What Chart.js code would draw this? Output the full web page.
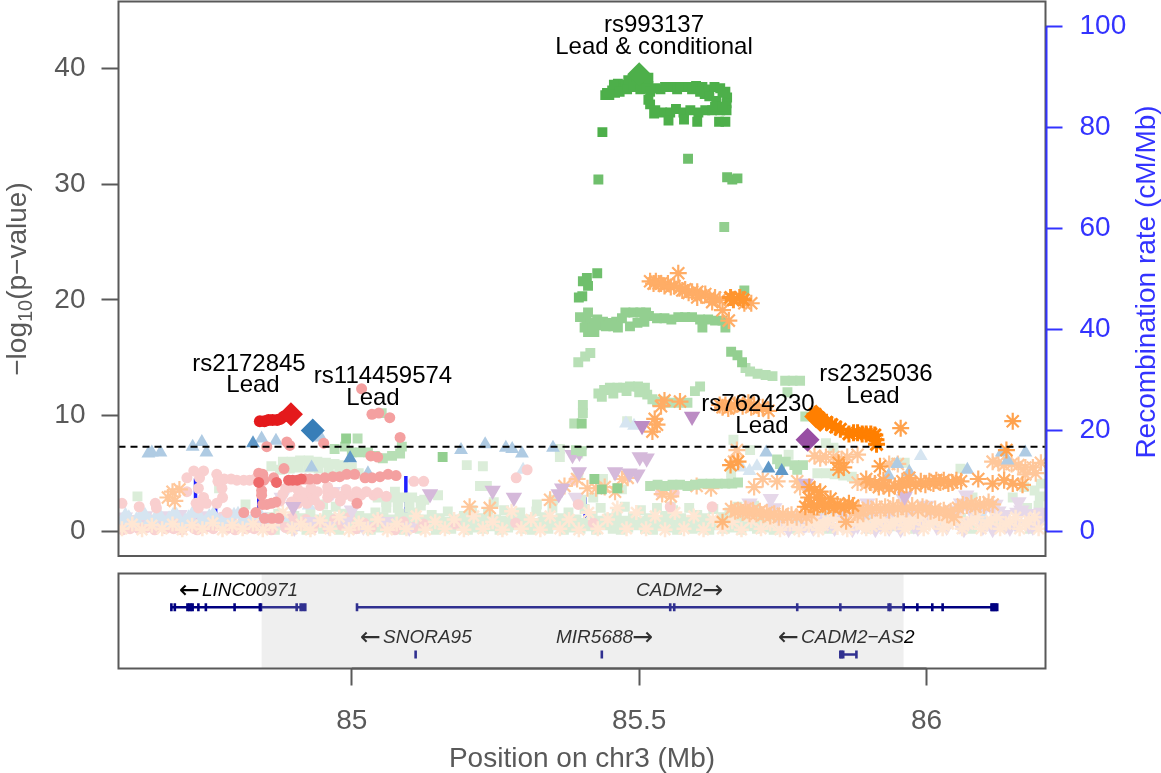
<!DOCTYPE html>
<html lang="en">
<head>
<meta charset="UTF-8">
<title>Regional association plot chr3</title>
<script src="https://cdn.jsdelivr.net/npm/chart.js"></script>
<style>
  html, body { margin: 0; padding: 0; background: #fff; overflow: hidden; }
  canvas { position: absolute; left: 0; }
  #mainChart { top: 0; }
  #geneChart { top: 565px; }
</style>
</head>
<body>
<canvas id="mainChart" width="1161" height="565"></canvas>
<canvas id="geneChart" width="1161" height="208"></canvas>
<script>
// tick labels
const pvalTicks = [0, 10, 20, 30, 40];
const rateTicks = [0, 20, 40, 60, 80, 100];
const posTicks = [85, 85.5, 86];
const posTickLabels = ['85', '85.5', '86'];
const genomeWindow = [84.594, 86.207];
const gwasLine = 7.3;
const highlightRange = [84.843, 85.96];

// recombination rate, null breaks the line
const recombRate = [
  [84.728,0],[84.728,10.4],[84.728,null],[84.763,0],[84.763,4.6],[84.763,null],
  [84.838,0],[84.838,8.0],[84.838,null],[85.094,0],[85.094,10.9],[85.094,null],[85.406,0],[85.406,6.7],[85.406,null],
  [85.725,0],[85.725,0.3],[85.725,null],[86.193,0],[86.193,5.0],[86.193,null]
];

// lead SNPs
const leadRed = [[84.894,10.1]];
const leadBlue = [[84.932,8.7]];
const leadGreen = [[85.5,39.5]];
const leadPurple = [[85.793,7.9]];
const leadOrange = [[85.815,9.6],[85.808,9.9]];

// red signal
const redStrong = [[84.840,9.5],[84.848,9.5],[84.855,9.6],[84.862,9.6],[84.870,9.6],[84.876,9.7],[84.882,9.9]];
const redDark = [[84.838,4.2],[84.869,4.2],[84.890,4.4],[84.897,4.4],[84.905,4.4],[84.912,4.5]];
const redMid = [[84.919,4.5],[84.927,4.5],[84.939,4.5],[84.953,4.6],[84.967,4.7],[84.979,4.7],[84.991,4.9],[85.005,4.9],[85.023,4.6],[85.035,4.6],[85.049,4.7],[85.063,4.9],[85.077,4.8],
  [85.017,12.3],[85.035,10.1],[85.047,10.2],[85.066,9.8],[85.084,8.1],[84.951,7.6],[84.852,7.3],[84.887,7.7],[84.892,7.4],[84.882,5.4],[85.009,2.4],[84.812,1.6],[84.833,1.6],
  [84.843,3.1],[84.845,2.3],[84.852,2.3],[84.860,2.4],[84.868,2.5],[84.848,1.1],[84.861,1.1],[84.873,1.1],[84.864,4.6],[84.845,4.9],[84.838,5.0],[84.847,4.4],[84.843,3.5],[85.033,6.5],[85.045,6.4]];
const redPale = [[84.600,2.4],[84.630,2.1],[84.658,2.4],[84.660,2.0],[84.713,4.6],[84.725,5.2],[84.742,5.2],[84.735,4.6],[84.713,3.4],[84.733,3.7],[84.742,2.9],[84.729,2.4],[84.747,2.4],[84.733,2.0],
  [84.765,4.9],[84.767,4.3],[84.774,3.7],[84.775,2.9],[84.765,2.4],[84.783,1.6],[84.800,4.4],[84.812,4.4],[84.822,4.4],[84.832,4.5],[84.790,4.5],[84.778,4.5],[84.770,4.4],
  [84.892,3.8],[84.906,2.9],[84.929,3.1],[84.958,2.9],[84.958,3.4],[84.986,3.1],[85.016,3.1],[85.038,3.1],[84.906,2.4],[84.922,2.4],[84.944,2.2],[84.906,3.6],[84.929,3.7],[84.958,3.8],[84.880,3.2],[84.895,2.5],[84.980,2.6],[85.000,3.0],[85.025,3.4],[85.060,3.0],
  [84.916,3.3],[84.940,3.4],[84.970,3.3],[84.990,3.6],[85.008,3.4],[85.045,3.3],[84.915,2.7],[84.935,2.7],[84.875,2.6],[84.885,3.7],
  [85.108,4.3],[85.125,4.3],[85.286,4.6],[85.305,5.3],[85.387,4.4],[85.394,2.3],[85.537,3.3],[85.561,3.3],[85.554,2.1],[85.627,2.1],[85.690,2.1]];
const redBand = [[84.597,.4],[84.605,.9],[84.614,.2],[84.625,.6],[84.633,1.1],[84.643,.3],[84.652,.8],[84.660,.3],[84.671,1.0],[84.680,.5],[84.690,.2],[84.699,.9],[84.708,.4],[84.718,1.1],[84.726,.2],[84.736,.7],[84.745,.3],[84.754,1.0],[84.764,.5],[84.773,1.2],[84.783,.2],[84.792,.8],[84.801,.3],[84.812,1.0],[84.821,.5],[84.830,.2],[84.841,.9],[84.850,.4],[84.860,.1],[84.873,.8],[84.885,.3],[84.896,1.2],[84.908,.5],[84.920,1.0],[84.932,.2],[84.945,.8],[84.958,.3],[84.970,1.0],[84.983,.5],[84.996,1.2],[85.008,.2],[85.021,.7],[85.034,.3],[85.047,1.0],[85.060,.5],[85.075,.1],[85.090,.8],[85.107,.3],[85.125,.6],[85.180,.6],[85.285,.7],[85.420,.7],
  [84.601,.1],[84.610,.5],[84.620,.9],[84.629,.2],[84.638,.6],[84.648,1.0],[84.657,.1],[84.666,.6],[84.676,.2],[84.685,.9],[84.695,.5],[84.704,.1],[84.713,.7],[84.722,.4],[84.731,.1],[84.741,.9],[84.750,.6],[84.759,.2],[84.769,.8],[84.778,.5],[84.788,1.0],[84.797,.1],[84.807,.6],[84.816,.2],[84.826,.7]];

// blue signal
const blueDark = [[84.828,7.6],[84.997,6.3],[85.725,5.4],[85.748,5.2]];
const blueMid = [[84.843,8.0],[84.868,7.8],[84.739,7.7],[84.723,7.3],[84.747,6.8],[84.646,6.7],[84.652,6.8],[84.667,6.8],[84.946,8.1],[84.930,5.5],[85.028,5.0],
  [85.190,7.0],[85.232,7.5],[85.268,7.2],[85.279,7.1],[85.296,6.7],[85.350,7.2],[85.721,6.8],[85.949,5.8],[85.970,5.1],[85.934,4.8],[86.071,5.3],[86.131,6.8],[86.141,6.1],[86.172,6.8]];
const bluePale = [[85.477,9.3],[85.491,9.1],[85.298,5.3],[85.990,6.5],[85.678,5.5],[85.692,5.2],[85.705,5.6],[84.910,2.9],[84.925,2.2],
  [84.600,.9],[84.612,1.2],[84.625,1.0],[84.640,1.4],[84.655,.8],[84.668,1.2],[84.682,1.1],[84.695,1.4],[84.710,.9],[84.722,1.5],[84.738,1.0],[84.752,1.3],[84.766,.8],[84.780,1.2],[84.795,1.4],[84.810,.9],[84.830,1.3],[84.850,1.0],[84.880,1.2],[85.770,1.0],[85.830,1.4],[85.900,.9],[85.950,1.2],[86.020,.8],[86.100,1.1],
  [84.606,1.4],[84.618,.7],[84.632,1.3],[84.648,.9],[84.662,1.5],[84.675,.7],[84.689,1.4],[84.703,.6],[84.716,1.2],[84.731,1.5],[84.745,.8],[84.759,1.5],[84.773,.7],[84.788,1.0],[84.802,1.5],[84.820,.8],[84.840,1.5]];

// green signal
const greenStrong = [[85.441,37.7],[85.448,37.7],[85.453,38.1],[85.458,37.9],[85.463,38.7],[85.470,38.3],[85.476,38.6],[85.481,39.0],[85.488,39.0],[85.495,39.0],[85.502,38.8],[85.509,39.0],[85.516,39.2],[85.516,38.5],
  [85.444,37.9],[85.456,38.6],[85.466,38.0],[85.479,38.2],[85.490,38.4],[85.502,38.2],[85.512,38.3],
  [85.519,38.0],[85.528,38.3],[85.537,38.2],[85.545,38.4],[85.559,38.4],[85.566,38.2],[85.571,38.4],[85.585,38.4],[85.592,38.2],[85.599,38.5],[85.610,38.4],[85.606,38.0],[85.620,38.2],[85.614,37.8],[85.631,38.4],[85.641,38.3],[85.650,38.0],[85.653,37.5],[85.652,37.0],[85.622,37.6],[85.634,37.2],[85.645,37.9],
  [85.516,37.3],[85.519,36.9],[85.528,36.4],[85.540,36.2],[85.554,36.2],[85.564,36.5],[85.577,36.2],[85.589,36.4],[85.603,36.2],[85.615,36.4],[85.627,36.4],[85.641,36.4],[85.652,36.4],[85.632,36.7],[85.645,36.7],
  [85.526,36.1],[85.551,35.5],[85.578,35.6],[85.601,35.4],[85.639,35.4],[85.650,35.4],[85.436,34.5]];
const green2 = [[85.429,30.4],[85.585,32.2],[85.653,30.6],[85.662,30.4],[85.671,30.5],[85.427,22.3],[85.409,21.9],[85.402,21.6],[85.411,21.2],[85.401,20.3],[85.395,20.2]];
const green3 = [[85.397,18.5],[85.408,18.4],[85.411,18.9],[85.415,18.0],[85.411,17.2],[85.422,17.2],[85.427,18.3],[85.437,18.1],[85.449,18.0],[85.460,18.1],[85.463,17.6],[85.470,18.4],[85.476,18.9],[85.490,18.9],[85.502,18.9],[85.512,18.9],[85.517,18.6],[85.484,17.7],[85.497,18.0],[85.509,18.1],
  [85.405,17.6],[85.418,17.5],[85.430,17.8],[85.442,17.7],[85.455,17.7],
  [85.531,18.4],[85.544,18.4],[85.556,18.3],[85.568,18.5],[85.580,18.5],[85.592,18.5],[85.606,18.3],[85.620,18.3],[85.632,18.2],[85.645,18.2],[85.610,17.6],[85.650,17.6],[85.683,20.8],[85.648,26.3],[85.671,15.2],[85.660,15.5],[85.679,14.6],[84.990,8.0],[85.158,6.4],[85.400,9.3],[85.422,4.5],[85.435,3.6],[85.462,3.7]];
const green4 = [[85.394,14.6],[85.406,15.1],[85.415,15.4],[85.429,11.9],[85.439,12.2],[85.449,12.4],[85.462,12.4],[85.472,12.4],[85.484,12.5],[85.498,12.5],[85.510,12.4],[85.514,11.8],[85.523,11.4],[85.531,11.2],[85.544,11.2],[85.554,11.1],[85.568,11.1],[85.584,11.1],[85.606,12.5],[85.597,12.1],[85.402,10.9],[85.402,10.2],[85.387,9.3],
  [85.435,11.6],[85.455,11.9],[85.478,12.1],[85.500,12.0],
  [85.685,14.1],[85.693,13.8],[85.706,13.6],[85.720,13.5],[85.732,13.4],[85.754,13.0],[85.767,13.0],[85.780,13.0],[85.758,12.0],[85.789,9.9],
  [84.970,7.1],[84.988,7.3],[85.000,6.8],[85.010,8.0],[85.014,6.8],[85.028,6.8],[85.040,6.5],[85.054,6.3],[85.070,6.5],[85.084,6.7],[85.087,7.3],[85.052,10.2],
  [85.519,3.9],[85.532,4.0],[85.545,3.9],[85.558,4.0],[85.571,4.0],[85.584,3.9],[85.597,4.0],[85.610,4.1],[85.624,4.1],[85.637,4.1],[85.650,4.1],[85.662,4.1],[85.672,4.2],
  [85.740,6.2],[85.755,6.0],[85.770,5.7],[85.785,5.7],[85.745,5.8],[85.775,5.3],[85.390,7.0],[85.400,6.9]];
const greenPale = [[84.627,3.0],[84.769,3.7],[84.815,2.3],[84.950,2.3],[84.972,2.1],[85.075,3.4],[85.200,5.7],[85.228,5.6],[85.223,3.9],[85.235,3.9],[85.247,2.5],[85.322,2.3],[85.150,3.1],[85.126,2.7],[85.362,7.1],[85.362,6.4],[85.394,6.7],[85.394,4.9],[85.437,4.5],[85.470,3.6],[85.479,9.5],[85.660,5.1],[85.660,4.3],[85.664,7.9],[85.693,7.0],
  [85.350,2.7],[85.400,2.7],[85.420,2.9],[85.555,2.1],[85.700,2.2],[85.760,6.6],[85.946,5.9],[85.962,5.9],[86.059,5.4],[86.080,2.9],[85.825,7.6],[85.838,7.2],
  [84.880,6.0],[84.895,6.0],[84.910,6.1],[84.925,6.1],[84.940,6.0],[84.955,5.9],[84.970,5.8],[84.985,5.7],[85.000,5.5],[84.860,5.6],[84.875,5.3],[84.892,5.4],[84.908,5.5],[84.925,5.5],[84.942,5.4],[84.960,5.3],[84.978,5.2],[84.995,5.0],[85.012,5.0],
  [85.045,2.9],[85.060,2.9],[85.075,2.9],[85.090,2.9],[85.105,2.9],[85.060,2.0],[85.080,2.0],[85.100,2.0],[85.120,2.2],[85.060,2.5],[85.080,2.5],[85.100,2.5],[85.120,2.6],
  [85.810,5.0],[85.825,5.0],[85.840,4.9],[85.855,4.8],[85.870,4.7],[86.150,2.9],[86.170,3.8],[86.188,3.5],[86.197,3.0],[86.195,2.2],[86.175,2.0],[86.199,4.1]];
const greenBandLow = [[84.852,.3],[84.866,.1],[84.880,.5],[84.893,.2],[84.908,.4],[84.921,.1],[84.936,.5],[84.950,.2],[84.963,.3],[84.978,.1],[84.991,.5],[85.006,.2],[85.019,.4],[85.033,.1],[85.048,.3],[85.061,.5],[85.076,.2],[85.090,.1],[85.103,.4],[85.118,.2],[85.132,.5],[85.146,.1],[85.159,.3],[85.173,.2],[85.188,.5],[85.202,.1],[85.215,.3],[85.230,.2],[85.244,.4],[85.257,.1],[85.272,.3],[85.286,.5],[85.300,.2],[85.313,.1],[85.328,.4],[85.342,.2],[85.356,.5],[85.369,.1],[85.384,.3],[85.398,.2],[85.412,.4],[85.425,.1],[85.440,.5],[85.454,.2],[85.468,.1],[85.481,.3],[85.496,.5],[85.510,.2],[85.524,.1],[85.537,.4],[85.552,.3],[85.566,.1],[85.580,.5],[85.593,.2],[85.608,.3],[85.622,.1],[85.636,.5],[85.649,.2],[85.664,.3],[85.678,.1],[85.692,.4],[85.705,.2],[85.720,.3],[85.734,.1],[85.748,.4],[85.770,.2],[85.800,.4],[85.830,.2],[85.860,.4],[85.900,.2],[85.940,.4],[85.980,.2],[86.030,.4],[86.080,.2],[86.130,.4],[86.180,.2]];
const greenBandMid = [[84.856,.8],[84.870,.7],[84.884,.9],[84.898,.7],[84.912,.8],[84.926,.9],[84.940,.7],[84.954,.8],[84.968,.9],[84.982,.7],[84.996,.8],[85.010,.9],[85.024,.7],[85.038,.8],[85.052,.9],[85.066,.7],[85.080,.8],[85.094,.9],[85.108,.7],[85.122,.8],[85.136,.9],[85.150,.7],[85.164,.8],[85.178,.9],[85.192,.7],[85.206,.8],[85.220,.9],[85.234,.7],[85.248,.8],[85.262,.9],[85.276,.7],[85.290,.8],[85.304,.9],[85.318,.7],[85.332,.8],[85.346,.9],[85.360,.7],[85.374,.8],[85.388,.9],[85.402,.7],[85.416,.8],[85.430,.9],[85.444,.7],[85.458,.8],[85.472,.9],[85.486,.7],[85.500,.8],[85.514,.9],[85.528,.7],[85.542,.8],[85.556,.9],[85.570,.7],[85.584,.8],[85.598,.9],[85.612,.7],[85.626,.8],[85.640,.9],[85.654,.7],[85.668,.8],[85.682,.9],[85.696,.7],[85.710,.8],[85.724,.9],[85.738,.7],[85.752,.8]];
const greenBandHigh = [[84.858,1.2],[84.872,1.5],[84.886,1.0],[84.900,1.3],[84.914,1.1],[84.928,1.6],[84.943,1.0],[84.957,1.4],[84.971,1.1],[84.985,1.5],[84.999,1.0],[85.013,1.3],[85.027,1.1],[85.041,1.6],[85.055,1.2],[85.069,1.0],[85.083,1.5],[85.097,1.2],[85.111,1.6],[85.125,1.0],[85.139,1.4],[85.153,1.1],[85.167,1.7],[85.181,1.0],[85.195,1.3],[85.209,1.8],[85.223,1.1],[85.237,1.5],[85.251,1.0],[85.265,1.8],[85.279,1.2],[85.293,1.6],[85.307,1.0],[85.321,1.7],[85.335,1.2],[85.349,2.0],[85.363,1.1],[85.377,1.6],[85.391,1.0],[85.405,1.9],[85.419,1.3],[85.433,2.0],[85.447,1.1],[85.461,1.6],[85.475,2.1],[85.489,1.2],[85.503,1.8],[85.517,1.1],[85.531,2.0],[85.545,1.3],[85.559,1.8],[85.573,1.1],[85.587,2.0],[85.601,1.4],[85.615,1.1],[85.629,1.9],[85.643,1.2],[85.657,1.6],[85.671,2.1],[85.685,1.2],[85.699,1.7],[85.713,1.0],[85.727,1.4],[85.741,1.0],[85.755,1.3],[85.790,1.0],[85.820,1.2],[85.880,1.0],[85.930,1.1],[86.000,1.0],[86.060,1.1],[86.120,1.0]];

// purple signal
const purpleStrong = [[85.505,9.1],[85.592,9.9]];
const purpleMid = [[85.790,4.1],[85.384,6.6],[85.396,6.8],[85.395,5.1],[85.458,5.1],[85.513,6.3],[85.501,6.4],[85.483,5.0],[85.497,4.9],[85.245,3.5],[85.282,2.9],[85.360,3.2],[85.366,3.7],[85.136,3.2],[84.898,2.1],[85.962,3.0]];
const purplePale = [[84.878,2.9],[84.967,3.4],[85.000,1.8],[85.390,2.9],[85.729,2.8],[85.692,2.4],[85.897,2.4],[86.069,3.1],[85.735,2.0],
  [84.605,1.2],[84.620,.9],[84.640,1.3],[84.660,1.0],[84.680,1.3],[84.700,1.4],[84.720,1.0],[84.745,1.3],[84.770,1.1],[84.790,1.4],[84.815,1.0],[84.840,1.2],[84.870,.9],[84.900,.3],[84.930,.8],[84.960,.4],[84.990,.8],[85.020,.4],[85.060,.8],[85.100,.3],
  [85.750,.5],[85.770,1.2],[85.790,.6],[85.815,1.1],[85.840,.3],[85.860,1.0],[85.880,.5],[85.900,1.3],[85.920,.6],[85.940,1.2],[85.955,.2],[85.975,1.5],[85.995,.7],[86.015,1.7],[86.035,.4],[86.055,1.6],[86.075,.8],[86.095,1.5],[86.115,.2],[86.135,1.4],[86.155,.6],[86.175,1.5],[86.195,.8],
  [85.960,2.8],[86.000,2.2],[86.060,2.4],[86.120,2.3],[86.160,2.5],
  [85.760,.2],[85.780,1.0],[85.803,.3],[85.828,.6],[85.850,1.4],[85.871,.2],[85.890,1.1],[85.911,.2],[85.930,1.5],[85.948,.7],[85.965,1.1],[85.985,.3],[86.005,1.4],[86.025,.9],[86.045,1.8],[86.065,.2],[86.085,1.8],[86.105,.7],[86.125,1.7],[86.145,.3],[86.165,1.8],[86.185,.4],[86.200,1.6],
  [85.765,.8],[85.785,.4],[85.808,.9],[85.835,1.2],[85.855,.7],[85.875,1.3],[85.895,.4],[85.915,1.2],[85.935,.3],[85.958,1.4],[85.978,.5],[85.998,1.6],[86.018,.4],[86.038,1.5],[86.058,.5],[86.078,1.7],[86.098,.4],[86.118,1.6],[86.138,.5],[86.158,1.6],[86.178,.5],[86.198,1.4]];

// orange signal
const orangeStrong = [[85.806,10.1],[85.812,9.8],[85.826,9.4],[85.835,9.2],[85.842,9.0],[85.850,8.8],[85.865,8.4],[85.873,8.5],[85.880,8.5],[85.888,8.4],[85.895,8.4],[85.903,8.4],[85.910,8.3],[85.912,7.9],[85.913,7.5]];
const orange2 = [[85.659,20.2],[85.675,20.2],[85.664,20.0],[85.681,20.0]];
const orange3 = [[85.659,5.7],[85.672,6.0],[85.847,5.9],[85.847,5.3],[85.856,5.5],[85.919,5.6],[85.955,8.9],[86.150,9.5],[86.139,7.0],
  [85.796,3.8],[85.805,3.5],[85.815,3.4],[85.795,2.9],[85.810,2.9],[85.830,2.2],[85.810,2.1],[85.833,2.8],[85.845,2.3],[85.857,2.0],[85.872,2.2],
  [85.789,2.1],[85.798,2.3],[85.804,2.1],[85.818,2.4],[85.824,2.1],[85.838,2.0],[85.850,2.1],[85.865,2.4]];
const orangeMid = [[85.519,21.6],[85.525,21.4],[85.529,21.6],[85.534,21.4],[85.538,21.4],[85.544,21.2],[85.550,21.4],[85.555,21.1],[85.561,21.2],[85.568,22.3],[85.570,21.0],[85.575,20.8],[85.580,20.9],[85.586,20.6],[85.592,20.7],[85.601,20.7],[85.608,20.4],[85.615,20.5],[85.622,20.2],[85.632,20.2],[85.601,20.2],[85.627,19.8],[85.640,20.0],[85.645,19.1],[85.656,18.2],[85.683,19.7],[85.695,19.7],
  [85.531,9.2],[85.544,11.3],[85.538,10.8],[85.527,9.7],[85.523,8.6],[85.571,11.2],
  [85.895,4.5],[85.902,4.2],[85.910,4.1],[85.917,3.8],[85.925,3.9],[85.935,3.7],[85.945,3.9],[85.952,3.8],[85.958,4.3],[85.965,4.0],[85.972,4.2],[85.981,3.9],[85.990,4.3],[85.998,4.0],[86.005,4.3],[86.012,4.1],[86.017,4.4],[86.024,4.2],[86.030,4.4],[86.038,4.1],[86.045,4.2],[86.052,4.4],[86.060,4.3],[86.090,4.5],[86.115,4.1],[86.135,4.4],[86.150,4.1],[86.167,4.0],[85.925,4.4],[85.970,4.6],
  [85.640,10.9],[85.645,10.7],[85.650,10.9],[85.655,10.6],[85.660,10.8],[85.666,10.9],[85.672,11.0],[85.680,10.8],[85.690,11.1],[85.695,10.7],[85.700,10.9],[85.708,10.6],[85.715,10.7],[85.725,10.4]];
const orangePale = [[85.805,6.5],[85.815,6.3],[85.825,6.4],[85.838,6.4],[85.852,6.2],[85.862,6.4],[85.880,6.6],[85.935,5.8],[85.950,5.8],[85.775,4.3],[85.715,4.5],[85.740,4.3],[85.780,3.8],[85.700,3.8],[85.670,7.0],[85.665,6.0],[85.880,4.2],[85.895,4.0],[86.115,6.0],[86.125,5.9],[86.135,5.7],[86.148,5.8],[86.160,5.7],[86.172,5.5],[86.185,5.5],[86.199,5.9],[86.172,4.9],[86.190,5.0],
  [85.660,1.9],[85.667,1.7],[85.672,1.8],[85.680,1.6],[85.685,1.9],[85.692,1.5],[85.698,1.8],[85.704,1.5],[85.710,1.7],[85.716,1.4],[85.722,1.6],[85.728,1.3],[85.735,1.5],[85.743,1.2],[85.750,1.5],[85.758,1.2],[85.765,1.4],[85.774,1.2],[85.782,1.4],[85.791,1.2],[85.800,1.4],[85.880,1.4],
  [85.875,1.6],[85.882,1.9],[85.890,1.5],[85.898,2.0],[85.905,1.8],[85.913,2.1],[85.920,1.8],[85.928,2.1],[85.935,1.8],[85.942,2.2],[85.950,1.9],[85.958,2.2],[85.965,1.9],[85.975,2.2],[85.985,1.8],[85.993,2.1],[86.000,2.0],[86.007,1.7],[86.015,1.9],[86.022,1.6],[86.030,1.8],[86.036,1.4],[86.042,1.7],[86.048,1.2],[86.055,2.0],[86.063,2.3],[86.070,2.2],[86.078,2.4],[86.085,2.1],[86.093,2.3],[86.100,2.2],[86.108,2.5],[86.115,2.3],
  [84.700,3.6],[84.688,3.4],[84.692,2.6],[84.680,2.9],[85.205,2.1],[85.240,2.0],[85.345,2.7],[85.370,3.9],[85.392,4.5],[85.410,3.7],[85.425,3.7],[85.440,3.8],[85.458,3.4],[85.470,4.5],[85.480,4.6],[85.600,3.9],[85.625,3.7],[85.540,3.2],[85.555,3.0]];
const orangeBand = [[84.600,.2],[84.618,.6],[84.635,.1],[84.652,.5],[84.670,.2],[84.688,.6],[84.705,.1],[84.722,.5],[84.740,.2],[84.758,.7],[84.775,.1],[84.792,.5],[84.810,.2],[84.828,.6],[84.845,.1],[84.862,.5],[84.880,1.6],[84.896,.2],[84.912,.6],[84.928,.1],[84.945,.9],[84.962,.2],[84.978,1.2],[84.995,.1],[85.012,.7],[85.028,.2],[85.045,1.0],[85.062,.1],[85.078,.6],[85.095,.2],[85.112,1.3],[85.128,.1],[85.145,.8],[85.162,.2],[85.178,1.0],[85.195,.1],[85.212,1.3],[85.228,.2],[85.245,.8],[85.262,.1],[85.278,1.7],[85.295,.2],[85.312,1.0],[85.328,.1],[85.345,1.3],[85.362,.2],[85.378,1.0],[85.395,.1],[85.412,1.6],[85.428,.2],[85.445,1.0],[85.462,2.0],[85.478,.2],[85.495,1.6],[85.512,.2],[85.528,1.3],[85.545,.1],[85.562,1.6],[85.578,.2],[85.595,1.3],[85.612,.1],[85.628,1.0],[85.645,.2],[85.662,.8],[85.678,.1],[85.695,.9],[85.712,.2],[85.728,.6],[85.745,.1],[85.762,.6],[85.778,.1],
  [85.795,.5],[85.812,.1],[85.828,.9],[85.845,.3],[85.862,.1],[85.878,.7],[85.895,.2],[85.912,.9],[85.928,.2],[85.945,.8],[85.962,.2],[85.978,.9],[85.995,.2],[86.012,.8],[86.028,.2],[86.045,.9],[86.062,.2],[86.078,.8],[86.095,.2],[86.112,.9],[86.128,.2],[86.145,.8],[86.162,.2],[86.178,.9],[86.195,.2],
  [85.805,.9],[85.820,.5],[85.838,1.1],[85.855,.6],[85.872,1.1],[85.888,.6],[85.905,.4],[85.922,1.0],[85.938,.5],[85.955,1.1],[85.970,.6],[85.988,1.1],[86.005,.6],[86.022,1.1],[86.038,.6],[86.055,1.1],[86.072,.6],[86.088,1.2],[86.105,.6],[86.122,1.2],[86.138,.6],[86.155,1.2],[86.172,.6],[86.188,1.2]];
const orangeLow = [[85.645,.8],[85.860,.8]];

// gene tracks
const trackRows = [0.645, 0.148];
const geneBodies = [[84.686,84.920],[85.009,86.118],[85.850,85.878]];
const geneBodyRows = [0, 0, 1];
const exonsLinc = [84.686,84.692,84.714,84.717,84.720,84.723,84.733,84.746,84.796,84.840,84.842,84.904,84.911,84.915,84.919];
const exonsCadm2 = [85.009,85.554,85.561,85.775,85.850,85.934,85.937,85.960,85.984,86.010,86.028,86.113,86.115,86.118,86.120,86.123];
const exonsLower = [85.111,85.435,85.850,85.852,85.855,85.878];
const geneLabels = [
  { arrow: '\u2190', name: 'LINC00971' },
  { arrow: '\u2192', name: 'CADM2' },
  { arrow: '\u2190', name: 'SNORA95' },
  { arrow: '\u2192', name: 'MIR5688' },
  { arrow: '\u2190', name: 'CADM2\u2212AS2' }
];
const snpLabels = [
  ['rs993137', 'Lead & conditional'],
  ['rs2172845', 'Lead'],
  ['rs114459574', 'Lead'],
  ['rs7624230', 'Lead'],
  ['rs2325036', 'Lead']
];

// page placement of the text
const snpLabelPos = [[654,25,654,47],[249,364,253,385],[383,376,373,398],[758,404,762,426],[876,374,873,396]];
const geneLabelPos = [[202,26,179],[636,26,702],[383,73,360],[556,73,632],[801,73,778]];

const FONT = '"Liberation Sans", Arial, sans-serif';
const GREY = '#595959';
const RATE_BLUE = '#3333FF';

function layer(data, style, color, radius, extra) {
  const stroke = style === 'star' || style === 'line';
  return Object.assign({
    data: data,
    pointStyle: style,
    pointRadius: radius,
    pointBackgroundColor: color,
    pointBorderColor: color,
    pointBorderWidth: stroke ? 2.2 : 0,
    showLine: false,
    yAxisID: 'y',
    clip: true
  }, extra || {});
}

const down = { pointRotation: 180 };

// first dataset ends up on top
const mainDatasets = [
  layer(leadRed, 'rectRot', '#E41A1C', 12),
  layer(leadBlue, 'rectRot', '#377EB8', 12),
  layer(leadGreen, 'rectRot', '#4DAF4A', 12),
  layer(leadOrange, 'rectRot', '#FF7F00', 12),
  layer(leadPurple, 'rectRot', '#984EA3', 12),
  layer(orangeStrong, 'star', '#FF7F00', 8.5, { pointBorderWidth: 3 }),
  layer(redStrong, 'circle', '#E41A1C', 6),
  layer(greenStrong, 'rect', '#4DAF4A', 7),
  layer(purpleStrong, 'triangle', '#BC8CC4', 9.5, down),
  layer(blueDark, 'triangle', '#5E97C7', 8),
  layer(orange2, 'star', '#FF952E', 8.5, { pointBorderWidth: 3 }),
  layer(redDark, 'circle', '#EE6A6B', 5.5),
  layer(redMid, 'circle', '#F4A0A0', 5.5),
  layer(orange3, 'star', '#FFA24D', 8.5),
  layer(orangeMid, 'star', '#FFAD66', 8.5),
  layer(green2, 'rect', '#6FBF6C', 7),
  layer(green3, 'rect', '#93CF90', 7),
  layer(green4, 'rect', '#B7DFB5', 7),
  layer(blueMid, 'triangle', '#AFCBE3', 8),
  layer(purpleMid, 'triangle', '#D5B9DA', 9.5, down),
  layer(orangePale, 'star', '#FFC79A', 8.5),
  layer(orangeLow, 'star', '#FFB77A', 8),
  layer(redPale, 'circle', '#F9CFCF', 5.5),
  layer(orangeBand, 'star', '#FFE7D4', 7.5, { pointBorderWidth: 2.5 }),
  layer(bluePale, 'triangle', '#D6E5F1', 8),
  layer(purplePale, 'triangle', '#E6D8E9', 9.5, down),
  layer(redBand, 'circle', '#F9D2D2', 5.5),
  layer(greenPale, 'rect', '#DBEDD9', 7),
  layer(greenBandHigh, 'rect', '#DBEDD9', 7),
  layer(greenBandMid, 'rect', '#DBEDD9', 7),
  layer(greenBandLow, 'rect', '#DBEDD9', 7),
  {
    data: [[genomeWindow[0], gwasLine], [genomeWindow[1], gwasLine]],
    showLine: true, pointRadius: 0, borderColor: '#000', borderWidth: 2, borderDash: [7, 5], yAxisID: 'y', order: -1
  },
  {
    data: recombRate,
    showLine: true, pointRadius: 0, borderColor: '#1F1FFF', borderWidth: 3.5, yAxisID: 'rate', spanGaps: false, order: 5
  }
];

const fixedTicks = list => scale => { scale.ticks = list.map(v => ({ value: v })); };

// the tick padding would otherwise shrink the plot area
function fitAxis(size) {
  return scale => {
    if (scale.isHorizontal()) scale.height = size; else scale.width = size;
    scale.paddingTop = 0;
    scale.paddingBottom = 0;
    scale.paddingLeft = 0;
    scale.paddingRight = 0;
  };
}

const mainOverlay = {
  id: 'mainOverlay',
  afterDatasetsDraw(chart) {
    const c = chart.ctx, a = chart.chartArea, rate = chart.scales.rate;
    c.save();
    c.strokeStyle = GREY;
    c.lineWidth = 2;
    c.strokeRect(a.left, a.top, a.right - a.left, a.bottom - a.top);
    c.strokeStyle = RATE_BLUE;
    c.beginPath();
    c.moveTo(a.right + 1, rate.getPixelForValue(100));
    c.lineTo(a.right + 1, rate.getPixelForValue(0));
    c.stroke();

    c.fillStyle = '#000';
    c.font = '24px ' + FONT;
    c.textAlign = 'center';
    c.textBaseline = 'middle';
    snpLabels.forEach((pair, i) => {
      const p = snpLabelPos[i];
      c.fillText(pair[0], p[0], p[1]);
      c.fillText(pair[1], p[2], p[3]);
    });

    // left axis title, with the subscript
    c.save();
    c.translate(17, 279);
    c.rotate(-Math.PI / 2);
    c.fillStyle = GREY;
    c.textAlign = 'left';
    c.textBaseline = 'alphabetic';
    c.font = '28px ' + FONT;
    const p1 = '\u2212log', p2 = '10', p3 = '(p\u2212value)';
    const w1 = c.measureText(p1).width, w3 = c.measureText(p3).width;
    c.font = '20px ' + FONT;
    const w2 = c.measureText(p2).width;
    let x = -(w1 + w2 + w3) / 2;
    c.font = '28px ' + FONT;
    c.fillText(p1, x, 9);
    x += w1;
    c.font = '20px ' + FONT;
    c.fillText(p2, x, 15);
    x += w2;
    c.font = '28px ' + FONT;
    c.fillText(p3, x, 9);
    c.restore();

    // right axis title
    c.save();
    c.translate(1147, 282);
    c.rotate(-Math.PI / 2);
    c.fillStyle = RATE_BLUE;
    c.font = '28px ' + FONT;
    c.textAlign = 'center';
    c.textBaseline = 'middle';
    c.fillText('Recombination rate (cM/Mb)', 0, 0);
    c.restore();
    c.restore();
  }
};

new Chart(document.getElementById('mainChart'), {
  type: 'scatter',
  data: { datasets: mainDatasets },
  options: {
    responsive: false,
    animation: false,
    layout: { autoPadding: false, padding: { top: 1.5, bottom: 9, left: 0, right: 0 } },
    plugins: { legend: { display: false }, tooltip: { enabled: false } },
    scales: {
      x: { type: 'linear', display: false, min: genomeWindow[0], max: genomeWindow[1] },
      y: {
        type: 'linear', position: 'left', min: -2.16, max: 45.8,
        afterBuildTicks: fixedTicks(pvalTicks),
        afterFit: fitAxis(118.5),
        border: { display: false },
        grid: { drawOnChartArea: false, tickLength: 17, tickColor: GREY, tickWidth: 2 },
        ticks: { color: GREY, font: { size: 28, family: FONT }, padding: 16, maxRotation: 0 }
      },
      rate: {
        type: 'linear', position: 'right', min: -4.95, max: 104.9,
        afterBuildTicks: fixedTicks(rateTicks),
        afterFit: fitAxis(115.5),
        border: { display: false },
        grid: { drawOnChartArea: false, tickLength: 17, tickColor: RATE_BLUE, tickWidth: 2 },
        ticks: { color: RATE_BLUE, font: { size: 28, family: FONT }, padding: 17, maxRotation: 0 }
      }
    }
  },
  plugins: [mainOverlay]
});

// gene panel
const geneDatasets = geneBodies.map((b, i) => ({
  data: [[b[0], trackRows[geneBodyRows[i]]], [b[1], trackRows[geneBodyRows[i]]]],
  showLine: true, pointRadius: 0, borderColor: '#000080', borderWidth: 2.5
}));
[[exonsLinc, 0], [exonsCadm2, 0], [exonsLower, 1]].forEach(([list, row]) => {
  geneDatasets.push({
    data: list.map(v => [v, trackRows[row]]),
    showLine: false,
    pointStyle: 'line', pointRotation: 90, pointRadius: 4,
    pointBorderColor: '#000080', pointBorderWidth: 2.6
  });
});

const geneOverlay = {
  id: 'geneOverlay',
  afterDatasetsDraw(chart) {
    const c = chart.ctx, a = chart.chartArea, xs = chart.scales.x;
    c.save();
    c.fillStyle = '#000';
    c.textBaseline = 'middle';
    c.textAlign = 'left';
    geneLabels.forEach((g, i) => {
      const p = geneLabelPos[i];
      c.font = 'italic 19px ' + FONT;
      c.fillText(g.name, p[0], p[1]);
      c.font = '25px "DejaVu Sans", sans-serif';
      c.fillText(g.arrow, p[2], p[1]);
    });

    const h0 = xs.getPixelForValue(highlightRange[0]), h1 = xs.getPixelForValue(highlightRange[1]);
    c.fillStyle = 'rgba(190,190,190,0.25)';
    c.fillRect(h0, a.top, h1 - h0, a.bottom - a.top);

    c.strokeStyle = GREY;
    c.lineWidth = 2;
    c.strokeRect(a.left, a.top, a.right - a.left, a.bottom - a.top);
    c.beginPath();
    c.moveTo(xs.getPixelForValue(posTicks[0]), a.bottom);
    c.lineTo(xs.getPixelForValue(posTicks[posTicks.length - 1]), a.bottom);
    c.stroke();

    c.fillStyle = GREY;
    c.font = '28px ' + FONT;
    c.textAlign = 'center';
    c.fillText('Position on chr3 (Mb)', 582, 194);
    c.restore();
  }
};

new Chart(document.getElementById('geneChart'), {
  type: 'scatter',
  data: { datasets: geneDatasets },
  options: {
    responsive: false,
    animation: false,
    layout: { autoPadding: false, padding: { top: 8.5, left: 118.5, right: 115.5, bottom: 0 } },
    plugins: { legend: { display: false }, tooltip: { enabled: false } },
    scales: {
      x: {
        type: 'linear', min: genomeWindow[0], max: genomeWindow[1],
        afterBuildTicks: fixedTicks(posTicks),
        afterFit: fitAxis(104.5),
        border: { display: false },
        grid: { drawOnChartArea: false, tickLength: 17, tickColor: GREY, tickWidth: 2 },
        ticks: {
          color: GREY, font: { size: 28, family: FONT }, padding: 19, maxRotation: 0,
          callback: (v, i) => posTickLabels[i]
        }
      },
      y: { type: 'linear', display: false, min: 0, max: 1 }
    }
  },
  plugins: [geneOverlay]
});
</script>
</body>
</html>
